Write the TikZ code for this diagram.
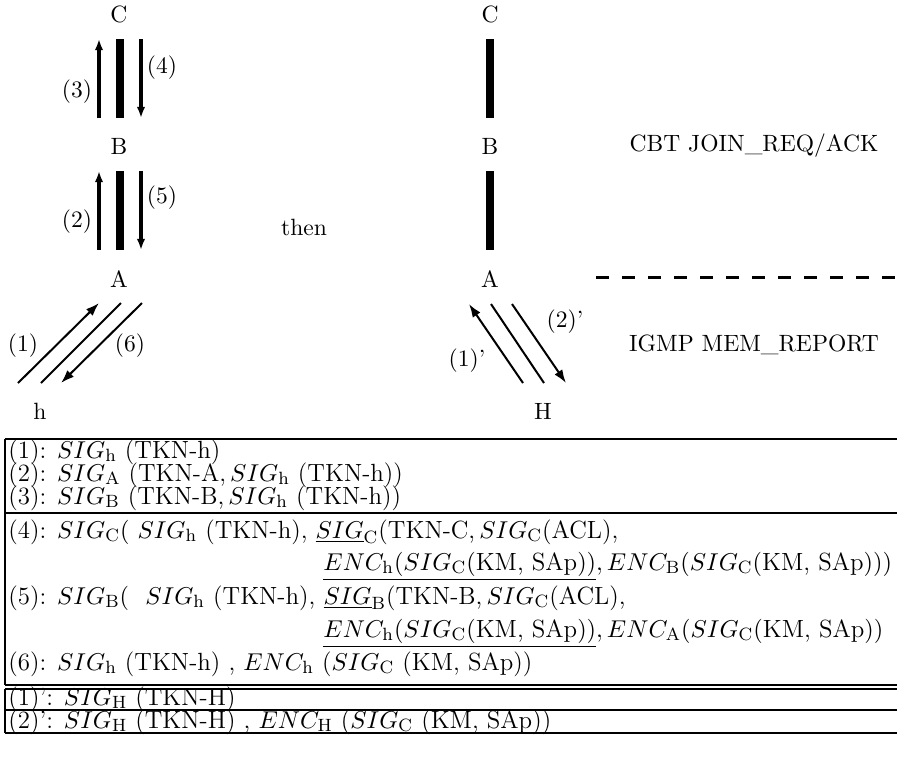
\documentclass[tikz,border=0pt]{standalone}
\usetikzlibrary{arrows.meta}
\begin{document}
\begin{tikzpicture}[x=0.45pt,y=-0.45pt,
  lbl/.style={inner sep=0pt, font=\fontsize{10.6}{12.7}\selectfont},
  row/.style={inner sep=0pt, anchor=base west, font=\fontsize{11.2}{13.4}\selectfont},
  msg/.style={line width=1.5pt, -{Latex[length=5pt,width=3.8pt]}},
  link/.style={line width=3.6pt},
  dmsg/.style={line width=0.9pt, -{Latex[length=6pt,width=4.2pt]}},
  dline/.style={line width=0.9pt},
  rule/.style={line width=0.6pt},
  sep/.style={line width=1.35pt, dash pattern=on 5.85pt off 5.85pt}]
\useasboundingbox (0,0) rectangle (897,762);

% ---------- left stack ----------
\node[lbl] (C1) at (119,14) {C};
\node[lbl] (B1) at (119,146) {B};
\node[lbl] (A1) at (119,279) {A};
\node[lbl] (h) at (40,411) {h};

\coordinate (l3s) at (99,118);  \coordinate (l3e) at (99,39);
\coordinate (lbt) at (120,39);  \coordinate (lbb) at (120,118);
\coordinate (l4s) at (141,39);  \coordinate (l4e) at (141,118);
\draw[msg] (l3s) -- (l3e);
\draw[link] (lbt) -- (lbb);
\draw[msg] (l4s) -- (l4e);
\node[lbl] (n3) at (77,92) {(3)};
\node[lbl] (n4) at (162,68) {(4)};

\coordinate (l2s) at (99,250);  \coordinate (l2e) at (99,171);
\coordinate (lat) at (120,171); \coordinate (lab) at (120,250);
\coordinate (l5s) at (141,171); \coordinate (l5e) at (141,250);
\draw[msg] (l2s) -- (l2e);
\draw[link] (lat) -- (lab);
\draw[msg] (l5s) -- (l5e);
\node[lbl] (n2) at (77,222) {(2)};
\node[lbl] (n5) at (162,198) {(5)};

\coordinate (d1s) at (18,383);  \coordinate (d1e) at (99,303);
\coordinate (d2s) at (41,383);  \coordinate (d2e) at (121,303);
\coordinate (d6s) at (142,303); \coordinate (d6e) at (61,383);
\draw[dmsg] (d1s) -- (d1e);
\draw[dline] (d2s) -- (d2e);
\draw[dmsg] (d6s) -- (d6e);
\node[lbl] (n1) at (23,346) {(1)};
\node[lbl] (n6) at (130,346) {(6)};

\node[lbl] (then) at (304,227) {then};

% ---------- right stack ----------
\node[lbl] (C2) at (490,14) {C};
\node[lbl] (B2) at (490,146) {B};
\node[lbl] (A2) at (490,279) {A};
\node[lbl] (H) at (543,411) {H};

\coordinate (rbt) at (490,39);  \coordinate (rbb) at (490,118);
\coordinate (rat) at (490,171); \coordinate (rab) at (490,250);
\draw[link] (rbt) -- (rbb);
\draw[link] (rat) -- (rab);

\coordinate (r1s) at (523,383); \coordinate (r1e) at (469,304);
\coordinate (r2s) at (491,304); \coordinate (r2e) at (544,383);
\coordinate (r3s) at (512,304); \coordinate (r3e) at (566,383);
\draw[dmsg] (r1s) -- (r1e);
\draw[dline] (r2s) -- (r2e);
\draw[dmsg] (r3s) -- (r3e);
\node[lbl] (m1) at (467,361) {(1)'};
\node[lbl] (m2) at (565,322) {(2)'};

\node[lbl] (cbt) at (754,146) {CBT JOIN\_REQ/ACK};
\node[lbl] (igmp) at (754,345) {IGMP MEM\_REPORT};
\coordinate (dashS) at (596,277); \coordinate (dashE) at (897,277);
\draw[sep] (dashS) -- (dashE);

% ---------- table ----------
\draw[rule] (5,439) -- (897,439);
\draw[rule] (5,439) -- (5,685);
\draw[rule] (5,513) -- (897,513);
\draw[rule] (5,685) -- (897,685);
\draw[rule] (5,689) -- (897,689);
\draw[rule] (5,689) -- (5,733);
\draw[rule] (5,710) -- (897,710);
\draw[rule] (5,733) -- (897,733);

\node[row] (t1) at (8,458) {(1): $SIG_{\mathrm{h}}$ (TKN-h)};
\node[row] (t2) at (8,481) {(2): $SIG_{\mathrm{A}}$ (TKN-A,\,$SIG_{\mathrm{h}}$ (TKN-h))};
\node[row] (t3) at (8,504) {(3): $SIG_{\mathrm{B}}$ (TKN-B,\,$SIG_{\mathrm{h}}$ (TKN-h))};
\node[row] (t4a) at (8,538) {(4): $SIG_{\mathrm{C}}\bigl(\ SIG_{\mathrm{h}}$ (TKN-h), $\underline{SIG}_{\mathrm{C}}$(TKN-C,\,$SIG_{\mathrm{C}}$(ACL),};
\node[row] (t4b) at (323,570) {$\underline{ENC_{\mathrm{h}}(SIG_{\mathrm{C}}(\mbox{KM, SAp}))}, ENC_{\mathrm{B}}(SIG_{\mathrm{C}}(\mbox{KM, SAp})))$};
\node[row] (t5a) at (8,604) {(5): $SIG_{\mathrm{B}}\bigl(\ \ SIG_{\mathrm{h}}$ (TKN-h), $\underline{SIG}_{\mathrm{B}}$(TKN-B,\,$SIG_{\mathrm{C}}$(ACL),};
\node[row] (t5b) at (323,637) {$\underline{ENC_{\mathrm{h}}(SIG_{\mathrm{C}}(\mbox{KM, SAp}))}, ENC_{\mathrm{A}}(SIG_{\mathrm{C}}(\mbox{KM, SAp}))$};
\node[row] (t6) at (8,670) {(6): $SIG_{\mathrm{h}}$ (TKN-h) , $ENC_{\mathrm{h}}$ ($SIG_{\mathrm{C}}$ (KM, SAp))};
\node[row] (u1) at (8,705) {(1)': $SIG_{\mathrm{H}}$ (TKN-H)};
\node[row] (u2) at (8,728) {(2)': $SIG_{\mathrm{H}}$ (TKN-H) , $ENC_{\mathrm{H}}$ ($SIG_{\mathrm{C}}$ (KM, SAp))};
\end{tikzpicture}
\end{document}
